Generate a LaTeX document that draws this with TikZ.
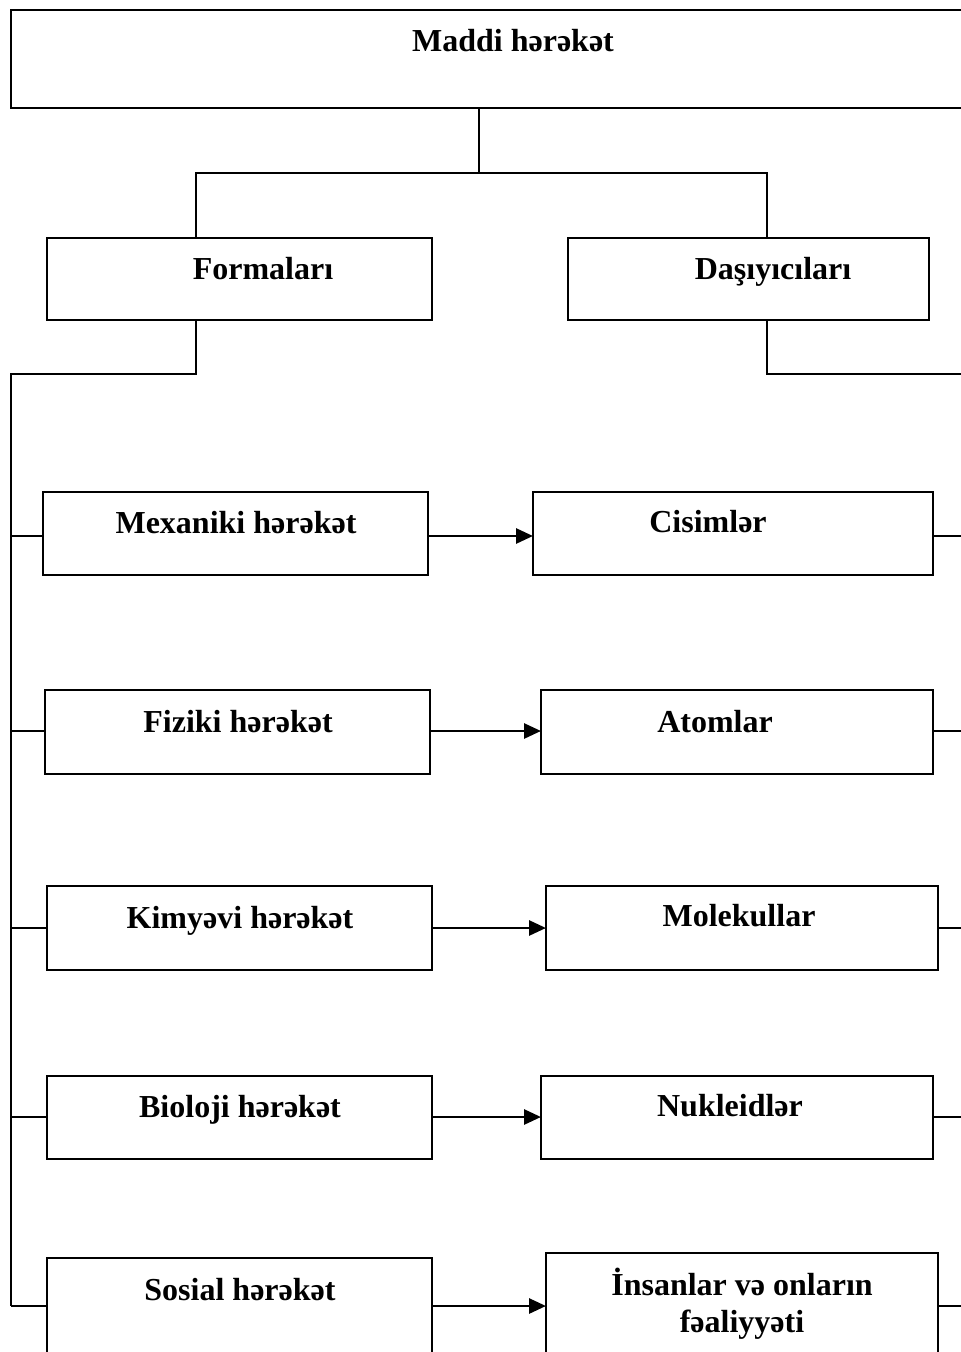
\documentclass[tikz,border=0pt]{standalone}
\usepackage{fontspec}
\setmainfont{Liberation Serif}
\usetikzlibrary{arrows.meta,fit}
\begin{document}
\begin{tikzpicture}[x=0.5pt,y=-0.5pt,
  box/.style={draw, line width=1pt, inner sep=0pt, outer sep=0pt, rectangle},
  lbl/.style={font=\bfseries\fontsize{16}{18.5}\selectfont, anchor=base, inner sep=0pt, align=center},
  con/.style={line width=0.9pt},
  arr/.style={line width=1.4pt, -{Triangle[length=8.5pt,width=7.5pt]}}]
\useasboundingbox (0,0) rectangle (961,1352);
\clip (0,0) rectangle (961,1352);
\fill[white] (0,0) rectangle (961,1352);
% boxes
\node[box, fit={(11,10) (1001,108)}] (top) {};
\node[box, fit={(47,238) (432,320)}] (form) {};
\node[box, fit={(568,238) (929,320)}] (dasi) {};
\node[box, fit={(43,492) (428,575)}] (L1) {};
\node[box, fit={(45,690) (430,774)}] (L2) {};
\node[box, fit={(47,886) (432,970)}] (L3) {};
\node[box, fit={(47,1076) (432,1159)}] (L4) {};
\node[box, fit={(47,1258) (432,1400)}] (L5) {};
\node[box, fit={(533,492) (933,575)}] (R1) {};
\node[box, fit={(541,690) (933,774)}] (R2) {};
\node[box, fit={(546,886) (938,970)}] (R3) {};
\node[box, fit={(541,1076) (933,1159)}] (R4) {};
\node[box, fit={(546,1253) (938,1400)}] (R5) {};
% labels
\node[lbl] (tTop) at (513,52) {Maddi hərəkət};
\node[lbl] (tForm) at (263,280) {Formaları};
\node[lbl] (tDasi) at (773,280) {Daşıyıcıları};
\node[lbl] (tL1) at (236,533) {Mexaniki hərəkət};
\node[lbl] (tL2) at (238,732) {Fiziki hərəkət};
\node[lbl] (tL3) at (240,928) {Kimyəvi hərəkət};
\node[lbl] (tL4) at (240,1117) {Bioloji hərəkət};
\node[lbl] (tL5) at (240,1300) {Sosial hərəkət};
\node[lbl] (tR1) at (708,532) {Cisimlər};
\node[lbl] (tR2) at (715,732) {Atomlar};
\node[lbl] (tR3) at (739,926) {Molekullar};
\node[lbl] (tR4) at (730,1116) {Nukleidlər};
\node[lbl] (tR5) at (742,1332) {İnsanlar və onların\\fəaliyyəti};
% coordinates
\coordinate (jt) at (479,173);
\coordinate (jf) at (196,374);
\coordinate (jd) at (767,374);
\coordinate (bus) at (11,374);
\coordinate (busend) at (11,1306);
\coordinate (redge) at (975,374);
\coordinate (y1) at (0,536);
\coordinate (y2) at (0,731);
\coordinate (y3) at (0,928);
\coordinate (y4) at (0,1117);
\coordinate (y5) at (0,1306);
\coordinate (rx) at (975,0);
% top tree
\draw[con] (top.south -| jt) -- (jt);
\draw[con] (form.north -| jf) |- (jt -| dasi.north -| jd) -- (dasi.north -| jd);
\draw[con] (form.south -| jf) -- (jf) -- (bus) -- (busend);
\draw[con] (dasi.south -| jd) -- (jd) -- (redge);
% branches
\foreach \i in {1,...,5} {
  \draw[con] (bus |- y\i) -- (L\i.west |- y\i);
  \draw[arr] (L\i.east |- y\i) -- (R\i.west |- y\i);
  \draw[con] (R\i.east |- y\i) -- (rx |- y\i);
}
\end{tikzpicture}
\end{document}
